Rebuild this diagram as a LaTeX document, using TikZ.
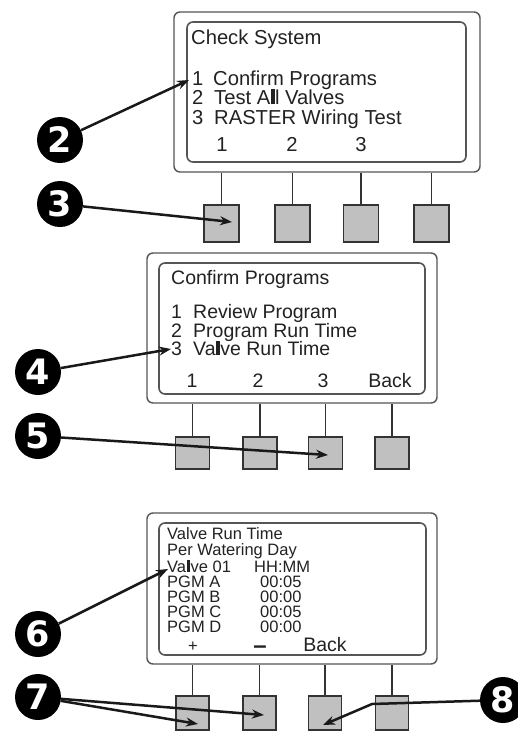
\documentclass[tikz,border=0pt]{standalone}
\usepackage{fontspec}
\setmainfont{Liberation Sans}
\newfontfamily\digitfont{DejaVu Sans}
\usetikzlibrary{arrows.meta}
\definecolor{panelline}{HTML}{555555}
\definecolor{btnfill}{HTML}{C0C0C0}
\definecolor{txt}{HTML}{222222}
\newcommand{\curbar}{\hspace{0.03em}\rule{3.6pt}{0.72em}\hspace{0.03em}}
\begin{document}
\begin{tikzpicture}[x=1pt,y=-1pt,
  outerpanel/.style={draw=panelline,line width=1.4pt,rounded corners=6pt,fill=white,inner sep=0pt},
  innerpanel/.style={draw=panelline,line width=1.6pt,rounded corners=6pt,inner sep=0pt},
  btn/.style={draw=black!80,line width=1.3pt,fill=btnfill,inner sep=0pt},
  stem/.style={draw=black!80,line width=1.2pt},
  circnum/.style={circle,fill=black,inner sep=0pt,minimum size=46pt,text=white,font=\digitfont\bfseries\fontsize{35}{35}\selectfont},
  arr/.style={draw=black!90,line width=2.5pt,-{Stealth[length=12pt,width=9pt]}},
  tl/.style={anchor=base west,inner sep=0pt,text=txt},
  tc/.style={anchor=base,inner sep=0pt,text=txt},
  fA/.style={font=\fontsize{20.2}{20}\selectfont},
  fB/.style={font=\fontsize{19.5}{19.5}\selectfont},
  fC/.style={font=\fontsize{16.5}{16.5}\selectfont}]
\useasboundingbox (0,0) rectangle (517,731);
\fill[white] (0,0) rectangle (517,731);

% ---------- panel 1 ----------
\node[outerpanel,minimum width=306pt,minimum height=160pt] (p1) at (327,92) {};
\node[innerpanel,minimum width=279pt,minimum height=140pt] (s1) at (326.5,92) {};
\node[tl,fA] (p1t0) at (191,44) {Check System};
\node[tl,fA] (p1n1) at (192,85) {1};
\node[tl,fA] (p1t1) at (213,85) {Confirm Programs};
\node[tl,fA] (p1n2) at (192,104) {2};
\node[tl,fA] (p1t2) at (214,104) {Test A\curbar l Valves};
\node[tl,fA] (p1n3) at (192,124) {3};
\node[tl,fA] (p1t3) at (214,124) {RASTER Wiring Test};
\node[tc,fA] (p1k1) at (222,151) {1};
\node[tc,fA] (p1k2) at (292,151) {2};
\node[tc,fA] (p1k3) at (361,151) {3};

\foreach \i/\x in {1/221.5,2/292.5,3/361,4/431.5}{
  \node[btn,minimum width=35pt,minimum height=37pt] (b1\i) at (\x,223.5) {};
  \draw[stem] (b1\i.north) -- (b1\i.north |- p1.south);
}

% ---------- panel 2 ----------
\node[outerpanel,minimum width=290pt,minimum height=150pt] (p2) at (292,328) {};
\node[innerpanel,minimum width=266pt,minimum height=131pt] (s2) at (292,328.5) {};
\node[tl,fB] (p2t0) at (171,284) {Confirm Programs};
\node[tl,fB] (p2n1) at (171,318) {1};
\node[tl,fB] (p2t1) at (193,318) {Review Program};
\node[tl,fB] (p2n2) at (171,337) {2};
\node[tl,fB] (p2t2) at (193,337) {Program Run Time};
\node[tl,fB] (p2n3) at (171,355) {3};
\node[tl,fB] (p2t3) at (193,355) {Va\curbar ve Run Time};
\node[tc,fB] (p2k1) at (192,387) {1};
\node[tc,fB] (p2k2) at (258,387) {2};
\node[tc,fB] (p2k3) at (323,387) {3};
\node[tc,fB] (p2k4) at (390,387) {Back};

\foreach \i/\x in {1/192.5,2/260,3/325.5,4/392}{
  \node[btn,minimum width=34pt,minimum height=32pt] (b2\i) at (\x,453) {};
  \draw[stem] (b2\i.north) -- (b2\i.north |- p2.south);
}

% ---------- panel 3 ----------
\node[outerpanel,minimum width=290pt,minimum height=151pt] (p3) at (292,588.5) {};
\node[innerpanel,minimum width=267pt,minimum height=132pt] (s3) at (292.5,589) {};
\node[tl,fC] (p3t0) at (167,539) {Valve Run Time};
\node[tl,fC] (p3t1) at (167,555) {Per Watering Day};
\node[tl,fC] (p3t2) at (167,572) {Va\curbar ve 01};
\node[tl,fC] (p3h2) at (254,572) {HH:MM};
\node[tl,fC] (p3t3) at (167,587) {PGM A};
\node[tl,fC] (p3h3) at (260,587) {00:05};
\node[tl,fC] (p3t4) at (167,602) {PGM B};
\node[tl,fC] (p3h4) at (260,602) {00:00};
\node[tl,fC] (p3t5) at (167,617) {PGM C};
\node[tl,fC] (p3h5) at (260,617) {00:05};
\node[tl,fC] (p3t6) at (167,632) {PGM D};
\node[tl,fC] (p3h6) at (260,632) {00:00};
\node[tc,fC] (p3k1) at (193,651) {+};
\node[tc,font=\bfseries\fontsize{24}{24}\selectfont] (p3k2) at (260,653) {–};
\node[tc,fB] (p3k3) at (325,651) {Back};

\foreach \i/\x in {1/192.5,2/259.5,3/325,4/392}{
  \node[btn,minimum width=33pt,minimum height=34pt] (b3\i) at (\x,713) {};
  \draw[stem] (b3\i.north) -- (b3\i.north |- p3.south);
}

% ---------- numbered callouts ----------
\node[circnum] (c2) at (60,140) {2};
\node[circnum] (c3) at (60,204) {3};
\node[circnum] (c4) at (38,372) {4};
\node[circnum] (c5) at (38,436) {5};
\node[circnum] (c6) at (38,634) {6};
\node[circnum] (c7) at (38,697) {7};
\node[circnum] (c8) at (503,700) {8};

\coordinate (t2) at (189,80);
\coordinate (t3) at (232,222);
\coordinate (t4) at (171,349);
\coordinate (t5) at (328,455);
\coordinate (t6) at (168,569);
\coordinate (t7a) at (198,724);
\coordinate (t7b) at (264,715);
\coordinate (k8) at (372,704);
\coordinate (t8) at (323,725);

\draw[arr] (c2) -- (t2);
\draw[arr] (c3) -- (t3);
\draw[arr] (c4) -- (t4);
\draw[arr] (c5) -- (t5);
\draw[arr] (c6) -- (t6);
\draw[arr] (c7) -- (t7a);
\draw[arr] (c7) -- (t7b);
\draw[arr] (c8) -- (k8) -- (t8);
\end{tikzpicture}
\end{document}
